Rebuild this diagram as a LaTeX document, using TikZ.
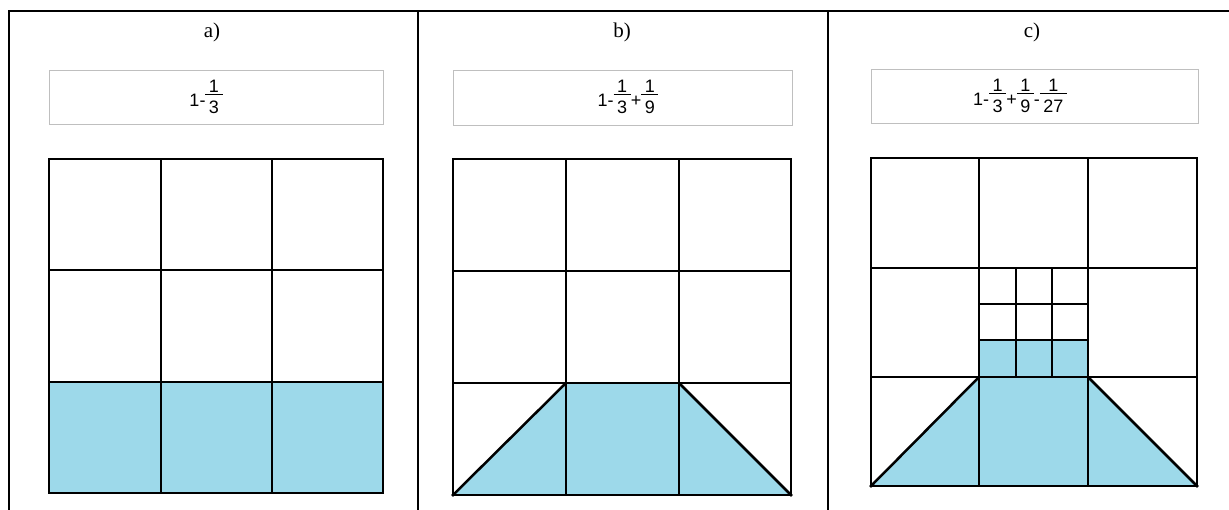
\documentclass[tikz,border=0pt]{standalone}
\usepackage{fontspec}
\setmainfont{Liberation Serif}
\newfontfamily\arialf{Liberation Sans}
\definecolor{fillblue}{RGB}{157,217,234}
\definecolor{boxgray}{RGB}{191,191,191}
\newcommand{\myfr}[2]{\raisebox{-7pt}{\vbox{\offinterlineskip\halign{\hskip3.5pt\hfil##\hfil\hskip3.5pt\cr\vphantom{0}#1\cr\noalign{\kern1.5pt\hrule height0.9pt\kern6.5pt}\vphantom{0}#2\cr}}}}
\tikzset{
  gridline/.style={line width=2.5pt, line cap=rect, line join=miter},
  thingrid/.style={line width=2pt},
  tableline/.style={line width=2.3pt},
  formbox/.style={draw=boxgray, line width=1pt},
  formula/.style={font=\arialf\fontsize{18}{18}\selectfont, anchor=base, inner sep=0pt},
  header/.style={font=\fontsize{21}{21}\selectfont, anchor=base, inner sep=0pt},
  shaded/.style={fill=fillblue}
}
\begin{document}
\begin{tikzpicture}[x=1pt,y=-1pt]
\useasboundingbox (0,0) rectangle (1229,510);
% table frame
\draw[tableline] (8,11) -- (1229,11);
\draw[tableline] (9,11) -- (9,510);
\draw[tableline] (418,11) -- (418,510);
\draw[tableline] (828,11) -- (828,510);
% headers
\node[header] (ha) at (212,38) {a)};
\node[header] (hb) at (622,38) {b)};
\node[header] (hc) at (1032,38) {c)};
% formula boxes
\draw[formbox] (49,71) rectangle (383,125);
\draw[formbox] (453,71) rectangle (792,126);
\draw[formbox] (871,70) rectangle (1198,124);
\node[formula] (fa) at (206,107) {1-\myfr{1}{3}};
\node[formula] (fb) at (628,107) {1-\myfr{1}{3}+\myfr{1}{9}};
\node[formula] (fc) at (1020,106) {1-\myfr{1}{3}+\myfr{1}{9}-\myfr{1}{27}};
% panel a
\fill[shaded] (49,382) rectangle (383,493);
\draw[gridline] (49,159) rectangle (383,493);
\draw[gridline] (161,159) -- (161,493) (272,159) -- (272,493);
\draw[gridline] (49,270) -- (383,270) (49,382) -- (383,382);
% panel b
\fill[shaded] (453,495) -- (566,383) -- (679,383) -- (791,495) -- cycle;
\draw[gridline] (453,159) rectangle (791,495);
\draw[gridline] (566,159) -- (566,495) (679,159) -- (679,495);
\draw[gridline] (453,271) -- (791,271) (453,383) -- (791,383);
\draw[gridline] (453,495) -- (566,383) (679,383) -- (791,495);
% panel c
\fill[shaded] (871,486) -- (979,377) -- (1088,377) -- (1197,486) -- cycle;
\fill[shaded] (979,340) rectangle (1088,377);
\draw[gridline] (871,158) rectangle (1197,486);
\draw[gridline] (979,158) -- (979,486) (1088,158) -- (1088,486);
\draw[gridline] (871,268) -- (1197,268) (871,377) -- (1197,377);
\draw[thingrid] (1016,268) -- (1016,377) (1052,268) -- (1052,377);
\draw[thingrid] (979,304) -- (1088,304) (979,340) -- (1088,340);
\draw[gridline] (871,486) -- (979,377) (1088,377) -- (1197,486);
\end{tikzpicture}
\end{document}
